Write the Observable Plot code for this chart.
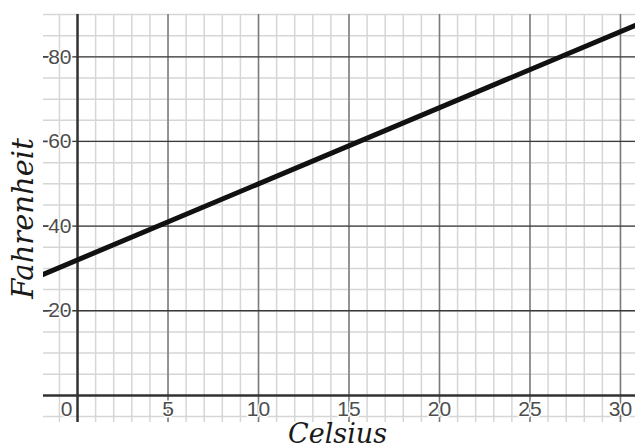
<!DOCTYPE html>
<html>
<head>
<meta charset="utf-8">
<script src="https://cdn.jsdelivr.net/npm/d3@7"></script>
<script src="https://cdn.jsdelivr.net/npm/@observablehq/plot@0.6"></script>
<style>
  html, body { margin: 0; padding: 0; background: #fff; }
  svg { display: block; }
  svg text { paint-order: stroke; }
</style>
</head>
<body>
<div id="chart"></div>
<script>
// Data
const celsius = [-1.9, 30.8];
const fahrenheit = [28.6, 87.4];
const xMinor = d3.range(-1, 31, 1);
const yMinor = d3.range(-5, 91, 5);
const xMajor = [5, 10, 15, 20, 25, 30];
const yMajor = [20, 40, 60, 80];
const xTickLabels = [5, 10, 15, 20, 25, 30];
const originLabel = [0];
const xDomain = [-1.88, 30.83];
const yDomain = [-6.4, 90];

const lineData = celsius.map((c, i) => ({c, f: fahrenheit[i]}));
const labelFont = "'Liberation Sans', Arimo, Arial, sans-serif";

const chart = Plot.plot({
  width: 635,
  height: 446,
  marginLeft: 43,
  marginRight: 0,
  marginTop: 14,
  marginBottom: 24,
  x: {domain: xDomain, axis: null},
  y: {domain: yDomain, axis: null},
  style: {background: "#fff"},
  marks: [
    Plot.ruleX(xMinor, {stroke: "#d6d6d6", strokeWidth: 1.5}),
    Plot.ruleY(yMinor, {stroke: "#d6d6d6", strokeWidth: 1.5}),
    Plot.ruleX(xMajor, {stroke: "#7a7a7a", strokeWidth: 1.5}),
    Plot.ruleY(yMajor, {stroke: "#3a3a3a", strokeWidth: 1.3}),
    Plot.ruleX([0], {stroke: "#333", strokeWidth: 2.5}),
    Plot.ruleY([0], {stroke: "#333", strokeWidth: 2.5}),
    Plot.line(lineData, {x: "c", y: "f", stroke: "#111", strokeWidth: 5, clip: true}),
    // y tick marks (short, at the left edge of the frame)
    Plot.tickY(yMajor, {y: d => d, stroke: "#444", strokeWidth: 1.5, insetRight: 635 - 43 - 5}),
    // y tick labels
    Plot.text(yMajor, {x: () => 0, y: d => d, text: d => String(d), textAnchor: "end", dx: -6,
      fontSize: 21, fontFamily: labelFont, fill: "#4d4d4d", stroke: "#fff", strokeWidth: 3}),
    // x tick labels
    Plot.text(xTickLabels, {x: d => d, y: () => 0, text: d => String(d), dy: 14,
      fontSize: 21, fontFamily: labelFont, fill: "#4d4d4d", stroke: "#fff", strokeWidth: 3}),
    Plot.text(originLabel, {x: d => d, y: () => 0, text: d => String(d), dy: 14, dx: -5,
      textAnchor: "end",
      fontSize: 21, fontFamily: labelFont, fill: "#4d4d4d", stroke: "#fff", strokeWidth: 3}),
    // axis titles
    Plot.text(["Celsius"], {frameAnchor: "bottom", text: d => d, lineAnchor: "middle", textAnchor: "middle",
      dy: 12, dx: -2,
      fontSize: 27, fontStyle: "italic", fontFamily: "'DejaVu Serif', serif", fill: "#1a1a1a"}),
    Plot.text(["Fahrenheit"], {frameAnchor: "left", text: d => d, rotate: -90,
      lineAnchor: "middle", textAnchor: "middle", dx: -20,
      fontSize: 29, fontStyle: "italic", fontFamily: "'DejaVu Serif', serif", fill: "#1a1a1a"})
  ]
});
document.getElementById("chart").appendChild(chart);
</script>
</body>
</html>
